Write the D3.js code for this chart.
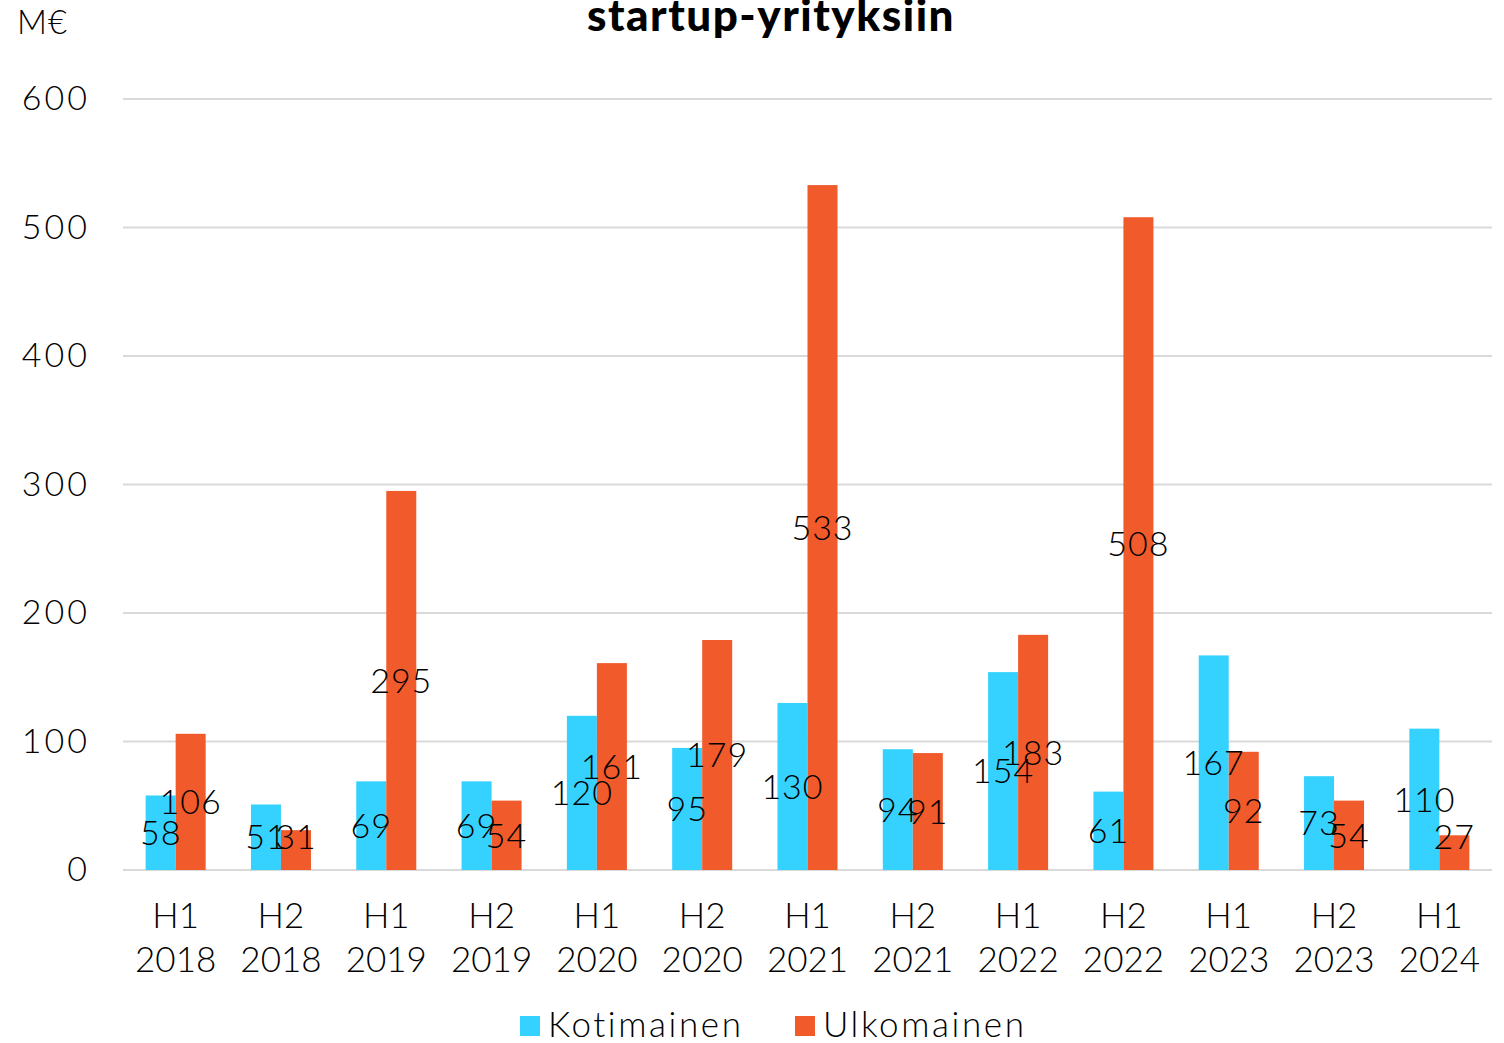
<!DOCTYPE html>
<html>
<head>
<meta charset="utf-8">
<script src="https://cdn.jsdelivr.net/npm/d3@7"></script>
<style>
  body { margin: 0; background: #fff; }
  text { font-family: "Lato", "Noto Sans", sans-serif; font-weight: 300; fill: #000; }
</style>
</head>
<body>
<div class="barchart"></div>
<script>
var categories = ["H1 2018", "H2 2018", "H1 2019", "H2 2019", "H1 2020", "H2 2020", "H1 2021",
  "H2 2021", "H1 2022", "H2 2022", "H1 2023", "H2 2023", "H1 2024"];
var kotimainen = [58, 51, 69, 69, 120, 95, 130, 94, 154, 61, 167, 73, 110];
var ulkomainen = [106, 31, 295, 54, 161, 179, 533, 91, 183, 508, 92, 54, 27];
var yTicks = [0, 100, 200, 300, 400, 500, 600];
var seriesNames = ["Kotimainen", "Ulkomainen"];
var colors = ["#36D2FF", "#F15A2B"];

var svgWidth = 1504;
var svgHeight = 1043;

var margin = { top: 99, right: 12, bottom: 173, left: 123 };
var width = svgWidth - margin.left - margin.right;
var height = svgHeight - margin.top - margin.bottom;

var svg = d3.select(".barchart")
  .append("svg")
  .attr("width", svgWidth)
  .attr("height", svgHeight);

var chartGroup = svg.append("g")
  .attr("transform", `translate(${margin.left}, ${margin.top})`);

// scales
var x0 = d3.scaleBand()
  .domain(categories)
  .range([0, width]);

var x1 = d3.scaleBand()
  .domain(seriesNames)
  .range([x0.bandwidth() * 0.215, x0.bandwidth() * 0.785]);

var y = d3.scaleLinear()
  .domain([0, 600])
  .range([height, 0]);

// gridlines
chartGroup.selectAll(".grid")
  .data(yTicks)
  .enter()
  .append("line")
  .attr("x1", 0)
  .attr("x2", width)
  .attr("y1", d => y(d))
  .attr("y2", d => y(d))
  .attr("stroke", "#d9d9d9")
  .attr("stroke-width", 2);

// y axis labels
var leftAxis = d3.axisLeft(y).tickValues(yTicks).tickSize(0).tickPadding(33);
var yAxis = chartGroup.append("g").call(leftAxis);
yAxis.select(".domain").remove();
yAxis.selectAll("text")
  .attr("font-size", 34)
  .attr("letter-spacing", 3)
  .attr("fill", "#000");

// build data table
var table = categories.map(function(c, i) {
  return { cat: c, values: [
    { name: seriesNames[0], value: kotimainen[i] },
    { name: seriesNames[1], value: ulkomainen[i] }
  ] };
});

var groups = chartGroup.selectAll(".group")
  .data(table)
  .enter()
  .append("g")
  .attr("transform", d => `translate(${x0(d.cat)}, 0)`);

groups.selectAll("rect")
  .data(d => d.values)
  .enter()
  .append("rect")
  .attr("x", d => x1(d.name))
  .attr("width", x1.bandwidth())
  .attr("y", d => y(d.value))
  .attr("height", d => height - y(d.value))
  .attr("fill", (d, i) => colors[i]);

// data labels in middle of each bar, kept above the baseline
groups.selectAll(".lbl")
  .data(d => d.values)
  .enter()
  .append("text")
  .attr("x", d => x1(d.name) + x1.bandwidth() / 2)
  .attr("y", d => Math.min((y(d.value) + height) / 2, height - 33))
  .attr("dy", "0.36em")
  .attr("text-anchor", "middle")
  .attr("font-size", 34)
  .attr("letter-spacing", 1)
  .text(d => d.value);

// x axis labels (two lines)
var xLabels = chartGroup.selectAll(".xlab")
  .data(categories)
  .enter()
  .append("text")
  .attr("text-anchor", "middle")
  .attr("font-size", 35)
  .attr("transform", d => `translate(${x0(d) + x0.bandwidth() / 2}, ${height + 58})`);

xLabels.append("tspan")
  .attr("x", 0)
  .attr("y", 0)
  .text(d => d.split(" ")[0]);
xLabels.append("tspan")
  .attr("x", 0)
  .attr("y", 44)
  .text(d => d.split(" ")[1]);

// unit label
svg.append("text")
  .attr("x", 17)
  .attr("y", 34)
  .attr("font-size", 33)
  .attr("letter-spacing", 1)
  .text("M€");

// title (partially cut off at the top)
svg.append("text")
  .attr("x", 771)
  .attr("y", 31)
  .attr("text-anchor", "middle")
  .attr("font-size", 44)
  .attr("letter-spacing", 1.5)
  .style("font-weight", 900)
  .text("startup-yrityksiin");

// legend
var legendX = [520, 795];
var legend = svg.selectAll(".legend")
  .data(seriesNames)
  .enter()
  .append("g")
  .attr("transform", (d, i) => `translate(${legendX[i]}, 1016)`);

legend.append("rect")
  .attr("width", 20)
  .attr("height", 20)
  .attr("fill", (d, i) => colors[i]);

legend.append("text")
  .attr("x", 28)
  .attr("y", 21)
  .attr("font-size", 35)
  .attr("letter-spacing", 2.6)
  .text(d => d);
</script>
</body>
</html>
